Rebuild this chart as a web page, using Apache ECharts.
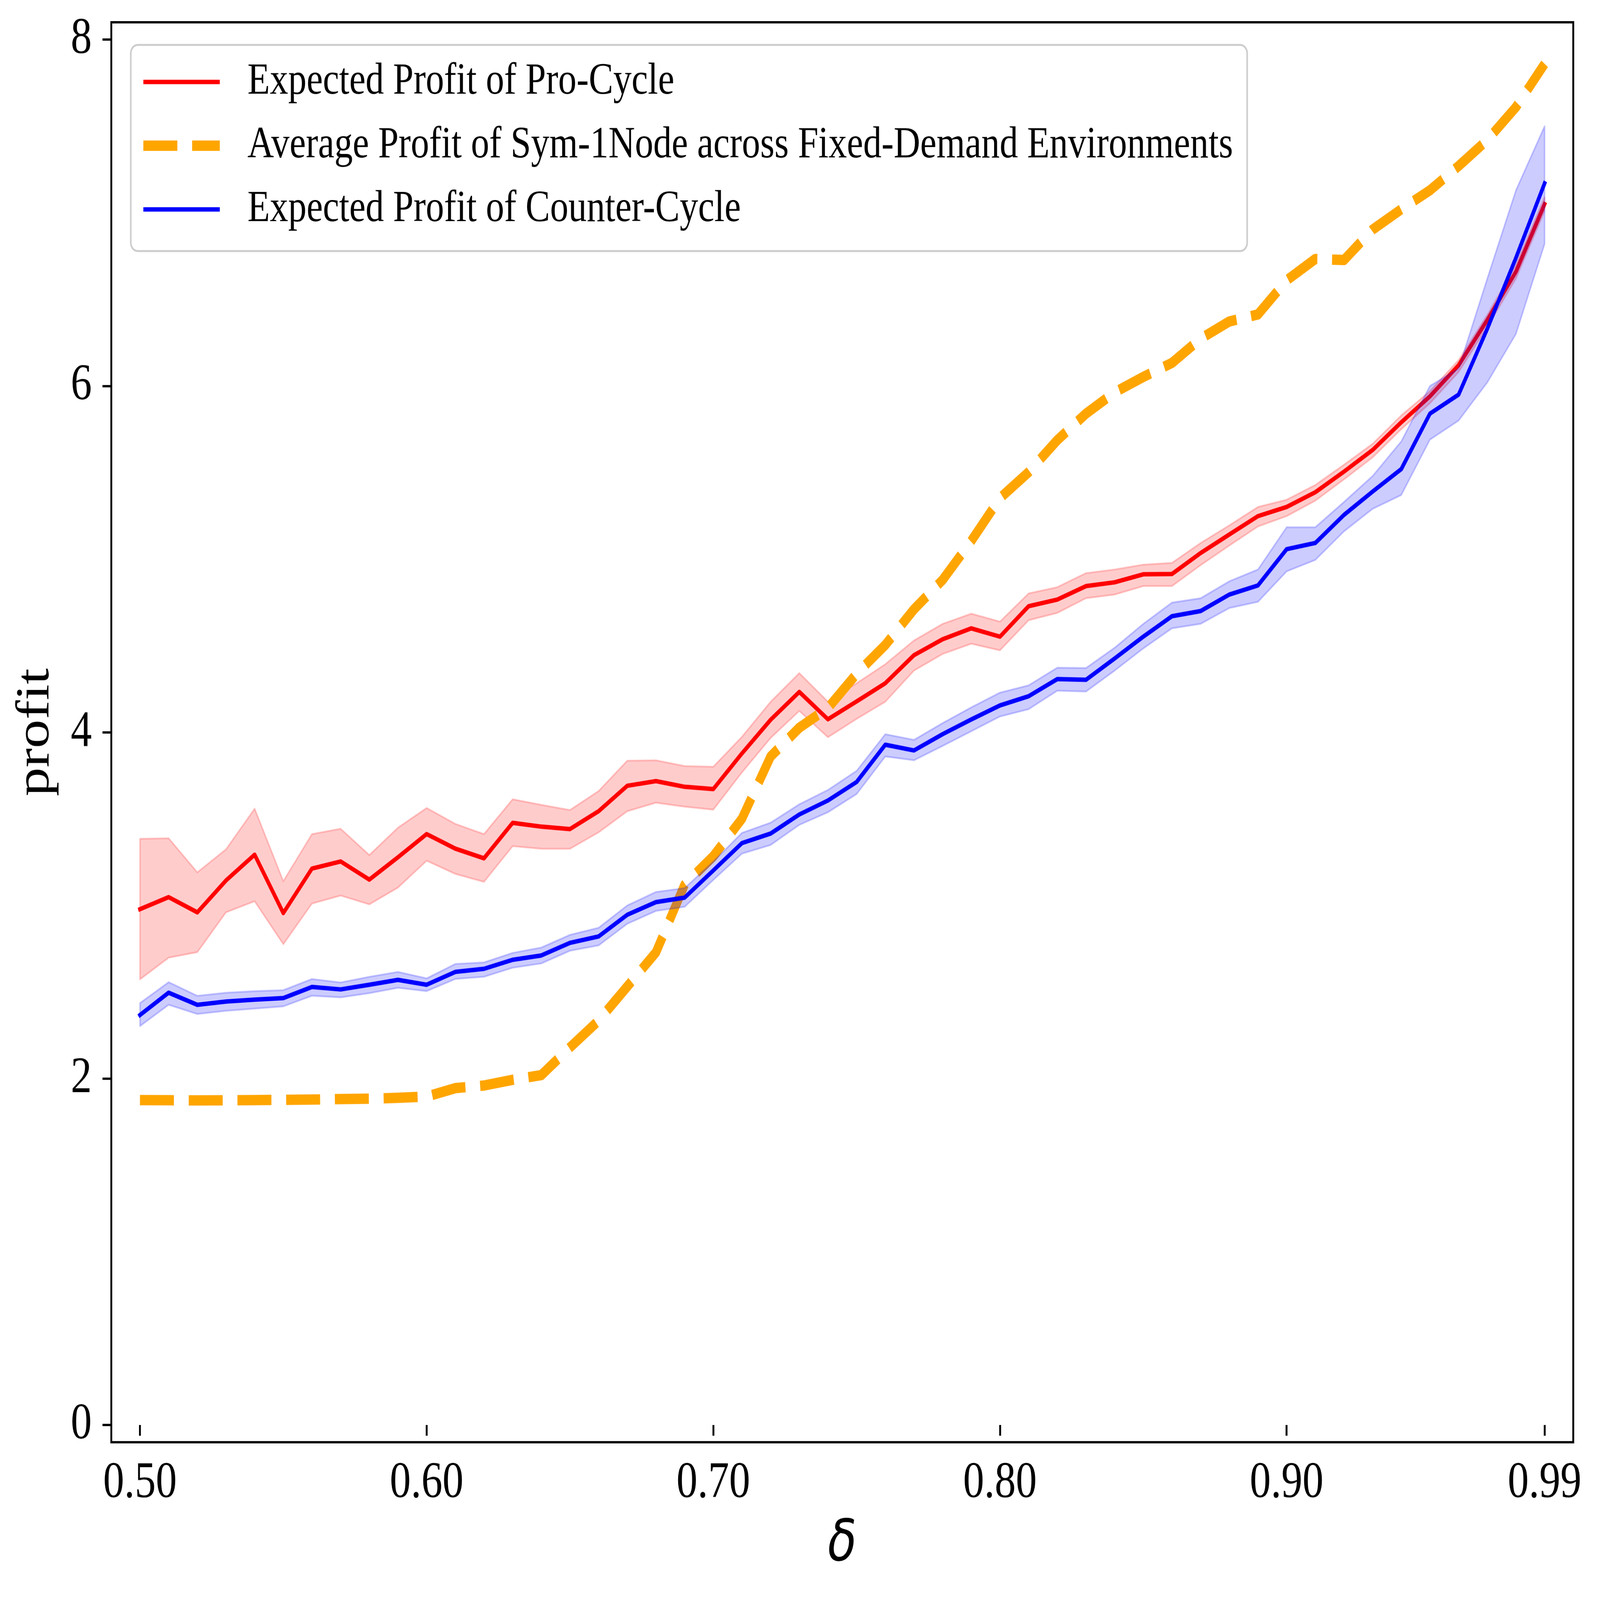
<!DOCTYPE html>
<html>
<head>
<meta charset="utf-8">
<script src="https://cdn.jsdelivr.net/npm/echarts/dist/echarts.min.js"></script>
<style>
html,body{margin:0;padding:0;background:#fff;overflow:hidden;}
#chart{position:absolute;left:0;top:0;width:5089px;height:4168px;transform-origin:0 0;}
</style>
</head>
<body>
<div id="chart"></div>
<script>
// ---- data ----
const deltas = [0.50,0.51,0.52,0.53,0.54,0.55,0.56,0.57,0.58,0.59,
                0.60,0.61,0.62,0.63,0.64,0.65,0.66,0.67,0.68,0.69,
                0.70,0.71,0.72,0.73,0.74,0.75,0.76,0.77,0.78,0.79,
                0.80,0.81,0.82,0.83,0.84,0.85,0.86,0.87,0.88,0.89,
                0.90,0.91,0.92,0.93,0.94,0.95,0.96,0.97,0.98,0.99];

const proMean = [2.978,3.048,2.960,3.144,3.293,2.956,3.213,3.254,3.149,3.278,
                 3.412,3.328,3.272,3.477,3.455,3.441,3.544,3.691,3.718,3.685,
                 3.672,3.878,4.072,4.233,4.075,4.178,4.283,4.445,4.537,4.600,
                 4.552,4.728,4.766,4.844,4.866,4.912,4.914,5.035,5.142,5.248,
                 5.301,5.386,5.505,5.630,5.790,5.940,6.120,6.380,6.660,7.050];
const proUpper = [3.385,3.388,3.191,3.324,3.559,3.140,3.412,3.443,3.291,3.449,
                  3.563,3.471,3.412,3.613,3.581,3.551,3.661,3.836,3.838,3.805,
                  3.801,3.974,4.176,4.342,4.176,4.283,4.393,4.530,4.626,4.685,
                  4.639,4.802,4.838,4.919,4.940,4.968,4.978,5.093,5.195,5.301,
                  5.343,5.428,5.545,5.666,5.830,5.970,6.150,6.410,6.700,7.090];
const proLower = [2.573,2.698,2.730,2.960,3.024,2.776,3.011,3.057,3.006,3.103,
                  3.258,3.182,3.136,3.342,3.327,3.327,3.422,3.544,3.593,3.570,
                  3.553,3.768,3.967,4.123,3.971,4.077,4.176,4.356,4.452,4.511,
                  4.473,4.647,4.689,4.774,4.795,4.844,4.844,4.965,5.078,5.188,
                  5.248,5.337,5.460,5.587,5.750,5.900,6.080,6.340,6.620,7.010];

const counterMean = [2.367,2.496,2.426,2.445,2.456,2.465,2.529,2.515,2.542,2.570,
                     2.542,2.616,2.634,2.686,2.711,2.784,2.821,2.946,3.019,3.045,
                     3.202,3.360,3.415,3.525,3.606,3.713,3.928,3.895,3.989,4.074,
                     4.155,4.208,4.307,4.303,4.426,4.552,4.670,4.700,4.795,4.848,
                     5.057,5.093,5.255,5.390,5.520,5.840,5.950,6.330,6.740,7.170];
const counterUpper = [2.436,2.557,2.478,2.496,2.505,2.511,2.575,2.555,2.588,2.616,
                      2.579,2.662,2.671,2.726,2.757,2.830,2.871,3.000,3.078,3.100,
                      3.253,3.419,3.478,3.584,3.667,3.777,3.989,3.956,4.053,4.144,
                      4.229,4.271,4.373,4.371,4.488,4.626,4.749,4.774,4.872,4.940,
                      5.184,5.184,5.330,5.480,5.680,6.000,6.100,6.620,7.130,7.500];
const counterLower = [2.303,2.426,2.373,2.391,2.404,2.417,2.478,2.469,2.493,2.524,
                      2.505,2.575,2.588,2.640,2.665,2.738,2.769,2.894,2.968,2.992,
                      3.147,3.299,3.349,3.465,3.538,3.643,3.860,3.838,3.921,4.006,
                      4.091,4.133,4.240,4.235,4.356,4.484,4.600,4.626,4.717,4.753,
                      4.929,4.995,5.160,5.290,5.370,5.690,5.800,6.020,6.300,6.820];

const symAvg = [1.876,1.875,1.874,1.875,1.876,1.877,1.879,1.882,1.884,1.889,
                1.896,1.945,1.960,1.993,2.020,2.180,2.335,2.532,2.729,3.120,
                3.284,3.501,3.860,4.026,4.140,4.338,4.504,4.710,4.880,5.105,
                5.352,5.502,5.687,5.840,5.963,6.052,6.133,6.273,6.372,6.413,
                6.610,6.733,6.727,6.903,7.020,7.130,7.270,7.420,7.610,7.860];

const xTicks = [0.50,0.60,0.70,0.80,0.90,0.99];
const yTicks = [0,2,4,6,8];

const names = ['Expected Profit of Pro-Cycle',
               'Average Profit of Sym-1Node across Fixed-Demand Environments',
               'Expected Profit of Counter-Cycle'];

// ---- fit the 5089 x 4168 design into whatever viewport we get ----
const W = document.documentElement.clientWidth || window.innerWidth || 5089;
const H = document.documentElement.clientHeight || window.innerHeight || 4168;
const el = document.getElementById('chart');
if (W !== 5089 || H !== 4168) {
  el.style.transform = 'scale(' + (W / 5089) + ',' + (H / 4168) + ')';
}

// ---- chart ----
const pairs = arr => deltas.map((d,i)=>[d, arr[i]]);

function band(lower, upper, color, z){
  return {
    type:'custom', silent:true, z:z,
    data:[[0.75, 4]],
    renderItem:function(params, api){
      const pts=[];
      for(let i=0;i<deltas.length;i++) pts.push(api.coord([deltas[i], upper[i]]));
      for(let i=deltas.length-1;i>=0;i--) pts.push(api.coord([deltas[i], lower[i]]));
      return {type:'polygon', shape:{points:pts},
              style:{fill:color, stroke:color, lineWidth:4.6, lineJoin:'round'}};
    }
  };
}

const serif = 'Liberation Serif';
const chart = echarts.init(el, null, {renderer:'canvas', width:5089, height:4168,
                                      devicePixelRatio: Math.max(1, window.devicePixelRatio || 1)});
chart.setOption({
  animation:false,
  backgroundColor:'#ffffff',
  grid:{left:354, right:85, top:58, bottom:411, show:true,
        borderColor:'#000', borderWidth:6, backgroundColor:'transparent', z:10},
  legend:{
    orient:'vertical', left:416, top:117,
    padding:[38,45,50,40], itemGap:49,
    itemWidth:326, itemHeight:28,
    backgroundColor:'rgba(255,255,255,0.8)', borderColor:'#cccccc', borderWidth:5, borderRadius:22,
    itemStyle:{borderWidth:0},
    textStyle:{fontFamily:serif, fontSize:116.7, color:'#000', lineHeight:116},
    selectedMode:false,
    data:[
      {name:names[0], icon:'path://M0,0 M326,28 M0,8.25h243v11.5h-243z'},
      {name:names[1], icon:'path://M0,0 M326,28 M0,0.5h108v27h-108z M155,0.5h88v27h-88z'},
      {name:names[2], icon:'path://M0,0 M326,28 M0,8.25h243v11.5h-243z'}
    ]
  },
  xAxis:{
    type:'value', min:0.49, max:1.00,
    name:'δ', nameLocation:'middle', nameGap:194,
    nameTextStyle:{fontFamily:'DejaVu Sans', fontStyle:'italic', fontSize:150, color:'#000'},
    axisLine:{show:false},
    axisTick:{show:true, length:28, lineStyle:{color:'#000', width:6}, customValues:xTicks},
    axisLabel:{margin:41, fontFamily:serif, fontSize:134, color:'#000', customValues:xTicks,
               formatter:v=>v.toFixed(2)},
    splitLine:{show:false}
  },
  yAxis:{
    type:'value', min:-0.1, max:8.1,
    name:'profit', nameLocation:'middle', nameGap:164, nameRotate:90,
    nameTextStyle:{fontFamily:serif, fontSize:150, color:'#000'},
    axisLine:{show:false},
    axisTick:{show:true, length:28, lineStyle:{color:'#000', width:6}, customValues:yTicks},
    axisLabel:{margin:62, fontFamily:serif, fontSize:134, color:'#000', customValues:yTicks,
               formatter:v=>String(Math.round(v))},
    splitLine:{show:false}
  },
  series:[
    {name:names[0], type:'line', data:pairs(proMean), symbol:'none', showSymbol:false, z:2,
     color:'#ff0000', lineStyle:{color:'#ff0000', width:11.5, join:'round', cap:'square'}},
    band(proLower, proUpper, 'rgba(255,0,0,0.2)', 3),
    {name:names[1], type:'line', data:pairs(symAvg), symbol:'none', showSymbol:false, z:4,
     color:'#ffa500', lineStyle:{color:'#ffa500', width:27, type:[108,47], join:'round', cap:'butt'}},
    {name:names[2], type:'line', data:pairs(counterMean), symbol:'none', showSymbol:false, z:5,
     color:'#0000ff', lineStyle:{color:'#0000ff', width:11.5, join:'round', cap:'square'}},
    band(counterLower, counterUpper, 'rgba(0,0,255,0.2)', 6)
  ]
});
</script>
</body>
</html>
